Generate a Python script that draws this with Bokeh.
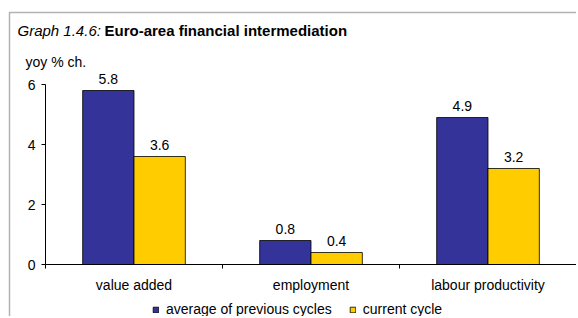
from bokeh.plotting import figure
from bokeh.models import (ColumnDataSource, FixedTicker, Label, LabelSet, Legend,
                          LegendItem, BoxAnnotation, Range1d)
from bokeh.core.properties import value
from bokeh.transform import dodge
from bokeh.embed import file_html
from bokeh.resources import INLINE

categories = ["value added", "employment", "labour productivity"]
series_names = ["average of previous cycles", "current cycle"]
avg_previous = [5.8, 0.8, 4.9]
current = [3.6, 0.4, 3.2]
y_ticks = [0, 2, 4, 6]
title_prefix = "Graph 1.4.6:"
title_main = "Euro-area financial intermediation"
unit_label = "yoy % ch."

FONT = "Liberation Sans"
FS = "14px"
BLUE = "#333399"
YELLOW = "#FFCC00"

W, H = 576, 316
# layout (pixels): frame covers the whole canvas; axes are fixed inside it
AX_LEFT, AX_RIGHT = 45, 576     # x of category axis start / end
Y0_PX, Y6_PX = 264, 84          # pixel rows of y=0 and y=6
n = len(categories)
ppx = (AX_RIGHT - AX_LEFT) / n
ppy = (Y0_PX - Y6_PX) / max(y_ticks)
x_start = -AX_LEFT / ppx
x_end = x_start + W / ppx
y_end = max(y_ticks) + Y6_PX / ppy
y_start = y_end - H / ppy

def px_x(px):
    return x_start + px / ppx

def px_y(py):
    return y_end - py / ppy

pos = [i + 0.5 for i in range(n)]
src = ColumnDataSource(dict(
    x=pos, avg=avg_previous, cur=current,
    avg_t=[f"{v:.1f}" for v in avg_previous],
    cur_t=[f"{v:.1f}" for v in current],
))

p = figure(width=W, height=H, output_backend="svg", toolbar_location=None,
           x_range=Range1d(x_start, x_end), y_range=Range1d(y_start, y_end))
p.min_border = 0
p.min_border_left = 0
p.min_border_right = 0
p.min_border_top = 0
p.min_border_bottom = 0
p.outline_line_color = None
p.grid.visible = False
p.background_fill_color = "white"
p.border_fill_color = "white"

w = 0.29
r1 = p.vbar(x=dodge("x", -w / 2, range=p.x_range), top="avg", width=w, source=src,
            fill_color=BLUE, line_color="black", line_width=0.8)
r2 = p.vbar(x=dodge("x", w / 2, range=p.x_range), top="cur", width=w, source=src,
            fill_color=YELLOW, line_color="black", line_width=0.8)

for col, tcol, off in (("avg", "avg_t", -w / 2), ("cur", "cur_t", w / 2)):
    p.add_layout(LabelSet(x=dodge("x", off, range=p.x_range), y=col, text=tcol, source=src,
                          text_align="center", text_baseline="bottom", y_offset=7,
                          text_font=value(FONT), text_font_size=value(FS),
                          text_color="black"))

xa = p.xaxis[0]
xa.fixed_location = 0
xa.bounds = (0, n)
xa.ticker = FixedTicker(ticks=pos, minor_ticks=list(range(n + 1)))
xa.major_label_overrides = {v: c for v, c in zip(pos, categories)}
xa.major_tick_line_color = None
xa.major_tick_in = 0
xa.major_tick_out = 6
xa.minor_tick_in = 0
xa.minor_tick_out = 4
xa.minor_tick_line_color = "black"
xa.axis_line_color = "black"
xa.major_label_text_font = FONT
xa.major_label_text_font_size = FS
xa.major_label_text_color = "black"
xa.major_label_standoff = 6

ya = p.yaxis[0]
ya.fixed_location = 0
ya.bounds = (0, max(y_ticks))
ya.ticker = FixedTicker(ticks=y_ticks)
ya.major_tick_in = 0
ya.major_tick_out = 4
ya.minor_tick_line_color = None
ya.axis_line_color = "black"
ya.major_tick_line_color = "black"
ya.major_label_text_font = FONT
ya.major_label_text_font_size = FS
ya.major_label_text_color = "black"
ya.major_label_standoff = 6

p.add_layout(BoxAnnotation(left=px_x(9), right=px_x(W + 50), top=px_y(12), bottom=px_y(H + 50),
                           fill_color=None, line_color="black", line_width=1.5))

p.add_layout(Label(x=px_x(17), y=px_y(30), text=title_prefix,
                   text_font=FONT, text_font_size="15px", text_font_style="italic",
                   text_baseline="middle", text_color="black"))
p.add_layout(Label(x=px_x(104), y=px_y(30), text=title_main,
                   text_font=FONT, text_font_size="15px", text_font_style="bold",
                   text_baseline="middle", text_color="black"))
p.add_layout(Label(x=px_x(25), y=px_y(61), text=unit_label,
                   text_font=FONT, text_font_size=FS,
                   text_baseline="middle", text_color="black"))

legend = Legend(items=[LegendItem(label=series_names[0], renderers=[r1]),
                       LegendItem(label=series_names[1], renderers=[r2])],
                orientation="horizontal", location=(152, -1),
                glyph_width=7, glyph_height=7, label_standoff=7, spacing=17,
                padding=0, margin=0, border_line_color=None,
                background_fill_alpha=0,
                label_text_font=FONT, label_text_font_size=FS,
                label_text_color="black", label_height=14)
p.add_layout(legend, "center")

open("out.html", "w").write(file_html(p, INLINE))
